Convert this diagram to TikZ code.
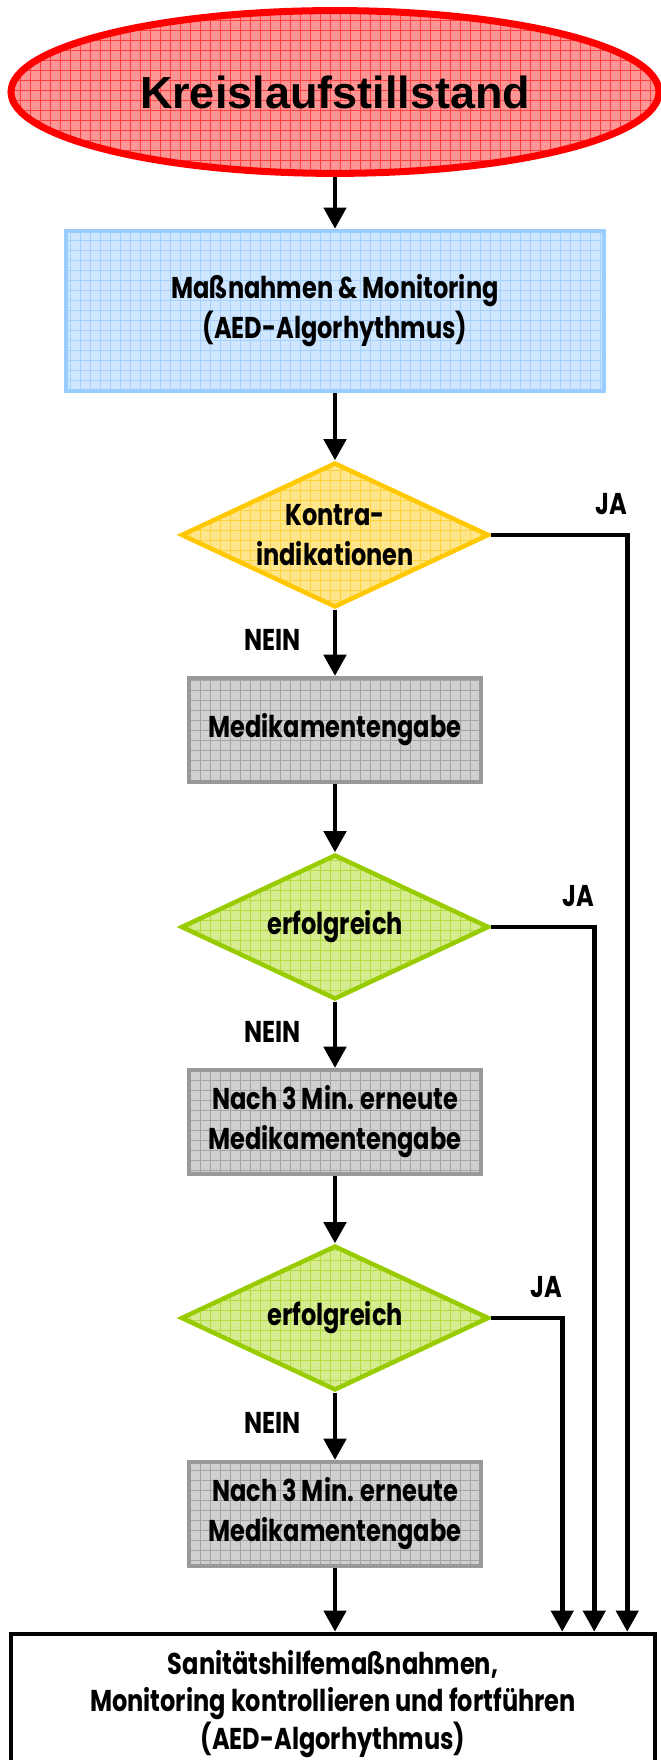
\documentclass[tikz,border=0pt]{standalone}
\usepackage{fontspec}
\setmainfont{Poppins}[FakeStretch=0.8]
\newfontfamily\titelfont{Liberation Sans}
\usetikzlibrary{shapes.geometric,arrows.meta,patterns.meta}
\definecolor{rotline}{HTML}{FF0000}
\definecolor{rotfill}{HTML}{FF9696}
\definecolor{rotgrid}{HTML}{FF4040}
\definecolor{blauline}{HTML}{99CCFF}
\definecolor{blaufill}{HTML}{CFE6FF}
\definecolor{blaugrid}{HTML}{A6D1FF}
\definecolor{gelbline}{HTML}{FFC800}
\definecolor{gelbfill}{HTML}{FFE68C}
\definecolor{gelbgrid}{HTML}{FFD43A}
\definecolor{gruenline}{HTML}{99CC00}
\definecolor{gruenfill}{HTML}{D6EC91}
\definecolor{gruengrid}{HTML}{B3DB40}
\definecolor{grauline}{HTML}{999999}
\definecolor{graufill}{HTML}{D0D0D0}
\definecolor{graugrid}{HTML}{A4A4A4}
\begin{document}
\begin{tikzpicture}[x=1cm,y=1cm,
font=\fontsize{21.4}{28.5}\selectfont\bfseries,
b/.style={
draw,
align=center,
line width=3.2pt,
inner sep=0pt},
gr/.style={
preaction={fill=#1fill},
pattern={Hatch[distance=0.25cm,line width=0.6pt]},
pattern color=#1grid,
draw=#1line},
box/.style={b,gr=grau,minimum width=7.29cm,minimum height=2.59cm},
raute/.style={b,diamond,aspect=2.1,inner xsep=-1cm,inner ysep=-0.6cm,
minimum width=7.7cm,minimum height=3.62cm},
pf/.style={-{Triangle[length=0.53cm,width=0.55cm]},line width=3.4pt},
nein/.style={pos=0.45,left=0.8cm,inner sep=0pt},
ja/.style={pos=0.5,anchor=south east,inner sep=0pt,yshift=0.45cm,xshift=0.05cm},
]
\useasboundingbox(0,0)rectangle(16.5,44);
%Start
\node[b,ellipse,gr=rot,line width=5pt,minimum width=16.2cm,minimum height=4.07cm,
font=\titelfont\fontsize{32}{36}\selectfont\bfseries](kreis)at(8.375,41.7){Kreislaufstillstand};
\node[b,gr=blau,minimum width=13.45cm,minimum height=4.0cm](mass)at(8.375,36.225){Maßnahmen \& Monitoring\\(AED-Algorhythmus)};
%%Abfragen
\node[raute,gr=gelb](kontra)at(8.375,30.625){Kontra-\\indikationen};
\node[box](medi1)at(8.375,25.75){Medikamentengabe};
\node[raute,gr=gruen](erf1)at(8.375,20.825){erfolgreich};
\node[box](medi2)at(8.375,15.95){Nach 3 Min. erneute\\Medikamentengabe};
\node[raute,gr=gruen](erf2)at(8.375,11.05){erfolgreich};
\node[box](medi3)at(8.375,6.15){Nach 3 Min. erneute\\Medikamentengabe};
%%Ende
\node[b,line width=3.2pt,minimum width=16.1cm,minimum height=3.5cm,
font=\fontsize{21.4}{26.7}\selectfont\bfseries](ende)at(8.325,1.4){Sanitätshilfemaßnahmen,\\Monitoring kontrollieren und fortführen\\(AED-Algorhythmus)};
%Pfeile
\draw[pf](kreis)--(mass);
\draw[pf](mass)--(kontra);
\draw[pf](kontra)--(medi1)node[nein]{NEIN};
\draw[pf](medi1)--(erf1);
\draw[pf](erf1)--(medi2)node[nein]{NEIN};
\draw[pf](medi2)--(erf2);
\draw[pf](erf2)--(medi3)node[nein]{NEIN};
\draw[pf](medi3)--(medi3|-ende.north);
%%JA
\draw[pf](kontra.east)-|([xshift=-0.75cm]ende.north east)node[ja]{JA};
\draw[pf](erf1.east)-|([xshift=-1.575cm]ende.north east)node[ja]{JA};
\draw[pf](erf2.east)-|([xshift=-2.375cm]ende.north east)node[ja]{JA};
\end{tikzpicture}
\end{document}
